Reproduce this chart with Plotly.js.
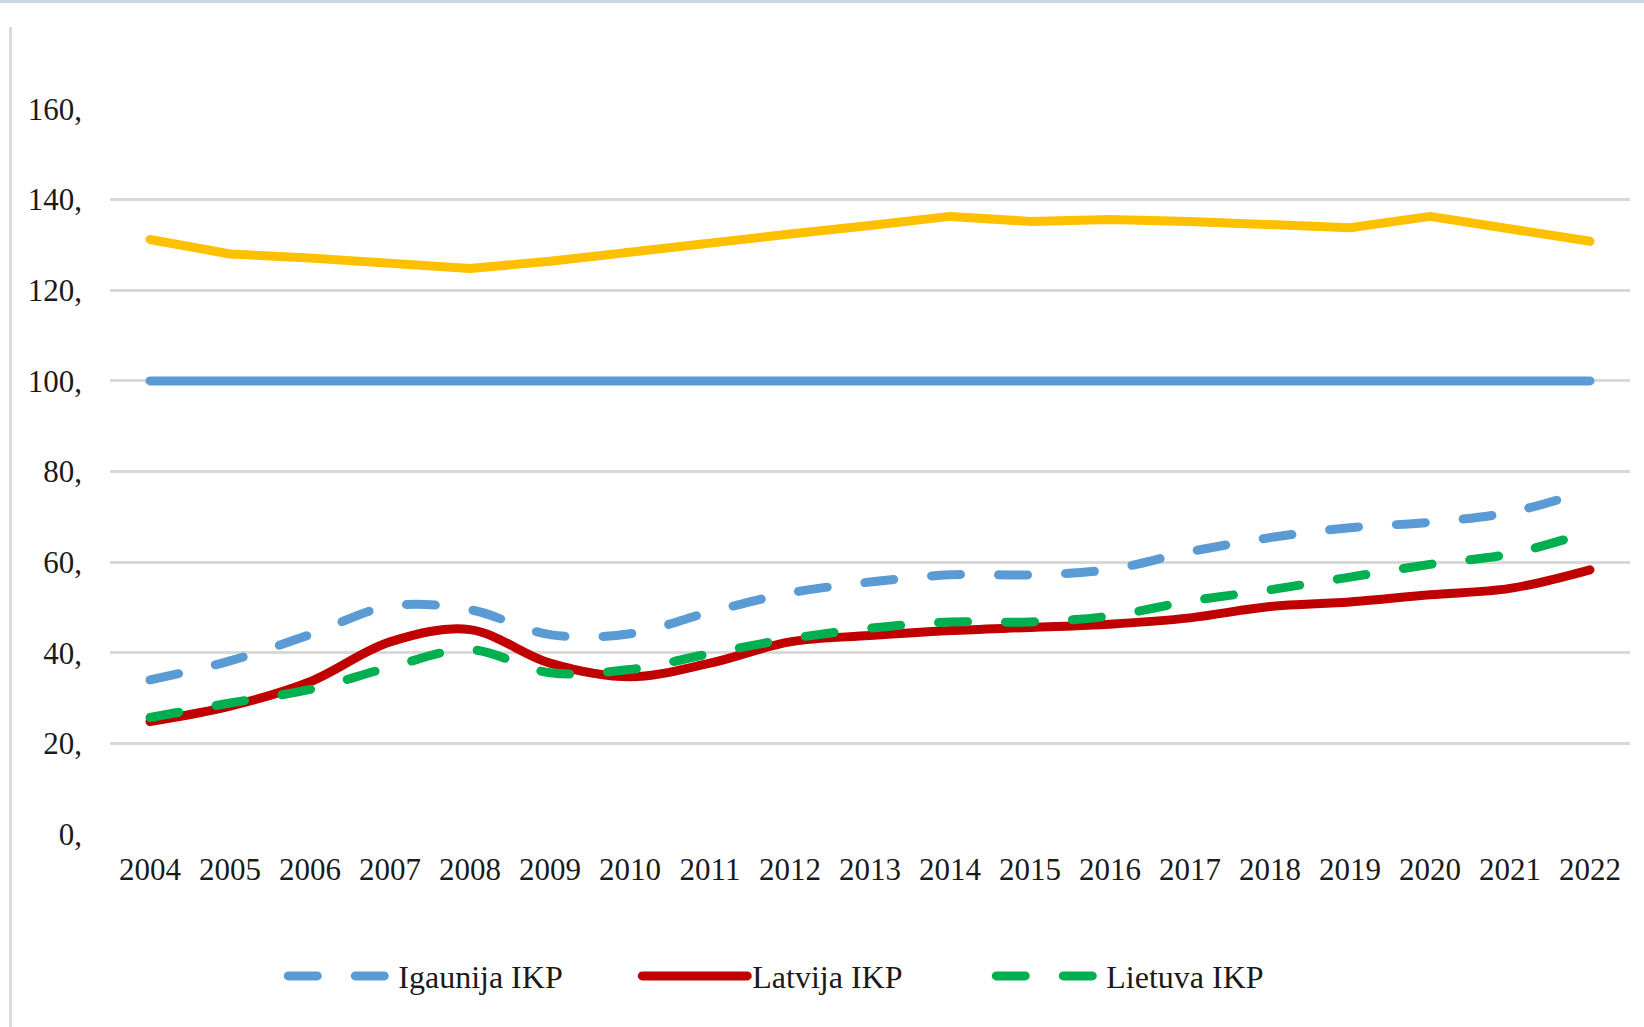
<!DOCTYPE html>
<html>
<head>
<meta charset="utf-8">
<script src="https://cdn.plot.ly/plotly-3.0.1.min.js"></script>
<style>
  html, body { margin: 0; padding: 0; background: #ffffff; }
  #wrap { position: relative; width: 1644px; height: 1027px; overflow: hidden; }
  #topband { position: absolute; left: 0; top: 0; width: 1644px; height: 3px; background: #c9d6e4; z-index: 5; }
  #leftline { position: absolute; left: 9px; top: 27px; width: 3px; height: 1000px; background: #d9d9d9; z-index: 5; }
  #chart { position: absolute; left: 0; top: 0; width: 1644px; height: 1027px; }
  .scatterlayer path.js-line { stroke-linecap: round; stroke-linejoin: round; }
  .legendlines path { stroke-linecap: round; }
</style>
</head>
<body>
<div id="wrap">
  <div id="chart"></div>
  <div id="topband"></div>
  <div id="leftline"></div>
</div>
<script>
const years = ["2004","2005","2006","2007","2008","2009","2010","2011","2012","2013","2014","2015","2016","2017","2018","2019","2020","2021","2022"];

const highSeries = [131.2,128.0,127.1,125.9,124.8,126.4,128.5,130.6,132.4,134.3,136.3,135.2,135.6,135.2,134.3,133.8,136.3,133.3,130.8];
const euAverage  = [100,100,100,100,100,100,100,100,100,100,100,100,100,100,100,100,100,100,100];
const igaunija   = [34.0,38.2,44.0,50.3,49.5,44.0,44.2,49.0,53.2,55.6,57.2,57.2,58.4,62.3,65.4,67.6,68.8,71.0,75.9];
const latvija    = [24.8,28.2,33.6,42.4,45.1,37.7,34.7,37.7,42.4,43.8,44.9,45.6,46.3,47.7,50.2,51.2,52.8,54.2,58.3];
const lietuva    = [25.7,28.9,31.9,36.8,40.7,35.6,36.3,39.8,43.1,45.4,46.8,46.8,48.1,51.4,53.9,56.7,59.5,61.8,66.7];

const seriesNames = ["Igaunija IKP", "Latvija IKP", "Lietuva IKP"];
const yTickVals = [0,20,40,60,80,100,120,140,160];
const yTickText = ["0,","20,","40,","60,","80,","100,","120,","140,","160,"];

const W = 9;
const dashPat = "29px,38px";

const traces = [
  { x: years, y: highSeries, type: "scatter", mode: "lines", showlegend: false,
    line: { color: "#FFC000", width: W, shape: "linear" }, hoverinfo: "skip" },
  { x: years, y: euAverage, type: "scatter", mode: "lines", showlegend: false,
    line: { color: "#5B9BD5", width: W, shape: "linear" }, hoverinfo: "skip" },
  { x: years, y: igaunija, name: seriesNames[0], type: "scatter", mode: "lines",
    line: { color: "#5B9BD5", width: W, shape: "spline", smoothing: 1, dash: dashPat } },
  { x: years, y: latvija, name: seriesNames[1], type: "scatter", mode: "lines",
    line: { color: "#C00000", width: W, shape: "spline", smoothing: 1 } },
  { x: years, y: lietuva, name: seriesNames[2], type: "scatter", mode: "lines",
    line: { color: "#00B050", width: W, shape: "spline", smoothing: 1, dash: dashPat } }
];

const fontFam = "'Liberation Serif', 'Times New Roman', serif";

const layout = {
  width: 1644, height: 1027,
  margin: { l: 110, r: 14, t: 109, b: 193, pad: 0 },
  paper_bgcolor: "#ffffff", plot_bgcolor: "#ffffff",
  font: { family: fontFam, size: 31, color: "#1a1a1a" },
  showlegend: true,
  xaxis: {
    type: "category", range: [-0.5, 18.5], fixedrange: true,
    showgrid: false, zeroline: false, showline: false, ticks: "",
    tickfont: { family: fontFam, size: 31, color: "#1a1a1a" },
    ticklabelstandoff: 14
  },
  yaxis: {
    range: [0, 160], fixedrange: true,
    tickvals: yTickVals, ticktext: yTickText,
    showgrid: true, gridcolor: "#d9d9d9", gridwidth: 3,
    zeroline: false, showline: false, ticks: "",
    tickfont: { family: fontFam, size: 31, color: "#1a1a1a" },
    ticklabelstandoff: 27
  },
  legend: {
    orientation: "h", x: 0.114, xanchor: "left", y: -0.196, yanchor: "middle",
    font: { family: fontFam, size: 32, color: "#1a1a1a" },
    itemwidth: 105, entrywidth: 234, entrywidthmode: "pixels",
    bgcolor: "rgba(0,0,0,0)", traceorder: "normal"
  }
};

Plotly.newPlot("chart", traces, layout, { staticPlot: true, displayModeBar: false });
</script>
</body>
</html>
